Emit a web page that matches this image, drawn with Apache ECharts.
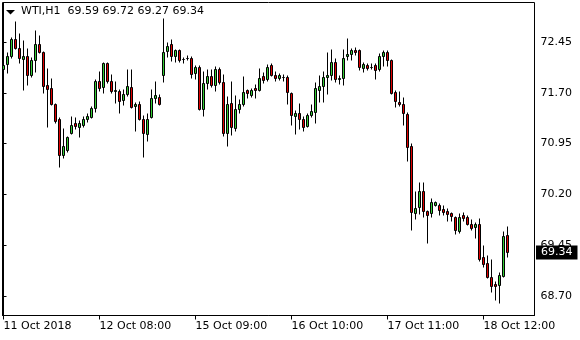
<!DOCTYPE html>
<html>
<head>
<meta charset="utf-8">
<script src="https://cdn.jsdelivr.net/npm/echarts@6/dist/echarts.min.js"></script>
<style>html,body{margin:0;padding:0;background:#fff;}#chart{width:580px;height:340px;}</style>
</head>
<body>
<div id="chart"></div>
<script>
const symbolName = 'WTI,H1';
const openP = [
72.05,72.11,72.23,72.48,72.36,72.19,72.24,71.96,72.17,72.42,
72.29,71.80,71.77,71.53,71.30,70.77,70.84,71.10,71.24,71.19,
71.22,71.30,71.33,71.46,71.86,71.78,72.13,71.86,71.72,71.72,
71.58,71.68,71.78,71.49,71.52,71.31,71.09,71.34,71.62,71.63,
71.96,72.31,72.42,72.23,72.32,72.19,72.21,72.21,71.98,72.08,
71.45,71.83,71.94,71.80,72.05,71.85,71.10,71.54,71.17,71.45,
71.52,71.73,71.66,71.77,71.73,71.94,71.90,72.10,71.96,71.91,
71.93,71.93,71.69,71.35,71.40,71.31,71.20,71.37,71.41,71.74,
71.79,71.93,71.95,72.14,71.89,71.91,72.23,72.27,72.33,72.32,
72.06,72.10,72.08,72.10,72.04,72.23,72.29,72.18,71.71,71.56,
71.53,71.38,70.91,69.92,70.01,70.24,69.94,69.91,70.04,70.03,
69.97,69.94,69.91,69.86,69.65,69.88,69.86,69.75,69.71,69.75,
69.26,69.18,68.97,68.87,68.85,68.99,69.59];
const highP = [
72.14,72.29,72.51,72.74,72.57,72.47,72.35,72.21,72.61,72.54,
72.30,72.05,71.90,71.53,71.32,71.16,71.05,71.34,71.32,71.28,
71.34,71.39,71.49,71.89,72.01,72.14,72.14,71.96,71.86,71.74,
71.74,72.04,72.04,71.55,71.57,71.35,71.39,71.74,71.86,71.67,
72.79,72.43,72.48,72.33,72.33,72.22,72.24,72.23,72.10,72.09,
72.01,72.04,72.04,72.08,72.07,71.96,71.64,71.86,71.65,71.60,
71.94,71.74,71.75,71.82,72.05,71.99,72.11,72.13,72.01,71.97,
71.96,71.95,71.70,71.43,71.54,71.34,71.39,71.52,71.84,71.95,
72.00,72.29,72.33,72.20,71.95,72.33,72.49,72.34,72.36,72.33,
72.14,72.12,72.12,72.13,72.27,72.31,72.31,72.19,71.73,71.71,
71.62,71.40,70.94,70.24,70.36,70.36,69.96,70.13,70.09,70.06,
70.02,69.99,69.93,69.87,69.91,69.93,69.88,69.82,69.77,69.83,
69.44,69.29,69.23,68.90,69.04,69.65,69.72];
const lowP = [
71.94,71.99,72.22,72.34,72.14,71.74,71.82,71.94,72.01,72.28,
71.69,71.20,71.52,71.25,70.61,70.73,70.82,71.09,71.16,71.05,
71.20,71.27,71.32,71.42,71.73,71.69,71.85,71.69,71.55,71.40,
71.52,71.65,71.47,71.14,71.30,70.75,70.99,71.32,71.55,71.52,
71.86,72.23,72.17,72.16,72.16,72.14,72.18,71.92,71.91,71.44,
71.35,71.75,71.79,71.72,71.83,71.06,70.92,71.08,71.13,71.40,
71.50,71.62,71.64,71.62,71.72,71.85,71.88,71.95,71.88,71.89,
71.88,71.53,71.23,71.09,71.16,71.13,71.19,71.34,71.26,71.57,
71.57,71.68,71.89,71.86,71.83,71.82,72.18,72.19,72.26,72.03,
72.01,72.03,72.05,71.90,72.02,72.10,72.10,71.68,71.49,71.51,
71.23,70.69,69.68,69.83,69.91,69.87,69.48,69.87,70.02,69.89,
69.89,69.80,69.80,69.61,69.63,69.80,69.74,69.67,69.55,69.22,
69.13,68.96,68.76,68.64,68.59,68.98,69.27];
const closeP = [
72.10,72.23,72.48,72.36,72.21,72.23,71.96,72.17,72.41,72.29,
71.79,71.75,71.53,71.27,70.77,70.90,71.04,71.22,71.20,71.24,
71.31,71.35,71.46,71.87,71.76,72.13,71.86,71.72,71.73,71.57,
71.68,71.79,71.48,71.52,71.31,71.10,71.31,71.62,71.66,71.53,
72.30,72.39,72.23,72.32,72.17,72.19,72.21,71.97,72.08,71.45,
71.83,71.94,71.80,72.04,71.85,71.10,71.53,71.18,71.45,71.52,
71.71,71.69,71.73,71.73,71.91,71.88,72.08,71.96,71.91,71.95,
71.93,71.71,71.37,71.40,71.31,71.19,71.37,71.43,71.77,71.79,
71.92,71.96,72.14,71.90,71.91,72.21,72.27,72.32,72.29,72.08,
72.11,72.06,72.08,72.03,72.24,72.29,72.18,71.69,71.57,71.52,
71.40,70.89,69.93,69.99,70.24,69.94,69.88,70.08,70.08,69.96,
69.93,69.90,69.87,69.66,69.86,69.84,69.75,69.69,69.75,69.23,
69.17,68.97,68.84,68.84,69.00,69.57,69.34];
const xTickBars = [0, 24, 48, 72, 96, 120];
const xTickLabels = ['11 Oct 2018', '12 Oct 08:00', '15 Oct 09:00', '16 Oct 10:00', '17 Oct 11:00', '18 Oct 12:00'];
const yTicks = [68.70, 69.45, 70.20, 70.95, 71.70, 72.45];

const n = openP.length;
const lastPrice = closeP[n - 1];
const candleData = openP.map((o, i) => [i, o, closeP[i], lowP[i], highP[i]]);
const titleText = symbolName + '  ' + [openP[n-1], highP[n-1], lowP[n-1], closeP[n-1]].map(v => v.toFixed(2)).join(' ');
const FONT = 'DejaVu Sans';
const BULL = '#33cc33', BEAR = '#e00000';

function renderCandle(params, api) {
  const i = api.value(0), o = api.value(1), c = api.value(2), l = api.value(3), h = api.value(4);
  const pO = api.coord([i, o]), pC = api.coord([i, c]), pL = api.coord([i, l]), pH = api.coord([i, h]);
  const x = Math.floor(pO[0] + 0.01) + 0.5;
  const snap = y => Math.round(y - 0.5) + 0.5;
  const yTop = snap(Math.min(pO[1], pC[1]));
  const yBot = snap(Math.max(pO[1], pC[1]));
  const yH = Math.round(pH[1]) - 0.5;
  const yL = Math.round(pL[1]) + 0.5;
  const bull = c >= o;
  return {
    type: 'group',
    children: [
      {type: 'line', shape: {x1: x, y1: yH, x2: x, y2: yL}, style: {stroke: '#000', lineWidth: 1}},
      {type: 'rect', shape: {x: x - 1, y: yTop, width: 2, height: yBot - yTop},
       style: {fill: bull ? BULL : BEAR, stroke: '#000', lineWidth: 1}}
    ]
  };
}

const chart = echarts.init(document.getElementById('chart'));
chart.setOption({
  animation: false,
  backgroundColor: '#fff',
  title: {
    text: titleText, left: 21, top: 6, padding: 0,
    textStyle: {fontFamily: FONT, fontSize: 11, fontWeight: 'normal', color: '#000'}
  },
  graphic: [{
    type: 'polygon', silent: true,
    shape: {points: [[6, 10], [15, 10], [10.5, 14.5]]},
    style: {fill: '#000'}
  }],
  grid: {
    left: 2.5, top: 2.5, right: 45.5, bottom: 24.5, outerBoundsMode: 'none',
    show: true, borderColor: '#000', borderWidth: 1, backgroundColor: 'transparent'
  },
  xAxis: {
    type: 'value', min: -0.25, max: 132.75,
    splitLine: {show: false},
    axisLine: {show: true, lineStyle: {color: '#000', width: 1}},
    axisTick: {show: true, length: 4, inside: false, customValues: xTickBars, lineStyle: {color: '#000'}},
    axisLabel: {
      show: true, customValues: xTickBars, margin: 5, align: 'left',
      fontFamily: FONT, fontSize: 11, color: '#000',
      formatter: v => { const k = xTickBars.indexOf(Math.round(v)); return k >= 0 ? xTickLabels[k] : ''; }
    }
  },
  yAxis: {
    type: 'value', position: 'right', min: 68.410, max: 73.033,
    splitLine: {show: false},
    axisLine: {show: true, lineStyle: {color: '#000', width: 1}},
    axisTick: {show: true, length: 3, inside: false, customValues: yTicks, lineStyle: {color: '#000'}},
    axisLabel: {
      show: true, customValues: yTicks, margin: 6,
      fontFamily: FONT, fontSize: 11, color: '#000',
      formatter: v => v.toFixed(2)
    }
  },
  series: [{
    type: 'custom',
    silent: true,
    data: candleData,
    encode: {x: 0, y: [1, 2, 3, 4]},
    renderItem: renderCandle,
    markLine: {
      silent: true, symbol: 'none', animation: false,
      lineStyle: {color: 'rgba(0,0,0,0)', width: 1, opacity: 1},
      data: [{yAxis: lastPrice}],
      label: {
        show: true, position: 'end', distance: 1.5,
        formatter: lastPrice.toFixed(2),
        backgroundColor: '#000', color: '#fff', opacity: 1,
        fontFamily: FONT, fontSize: 11, lineHeight: 12,
        padding: [1, 5, 1, 5]
      }
    }
  }]
});
</script>
</body>
</html>
